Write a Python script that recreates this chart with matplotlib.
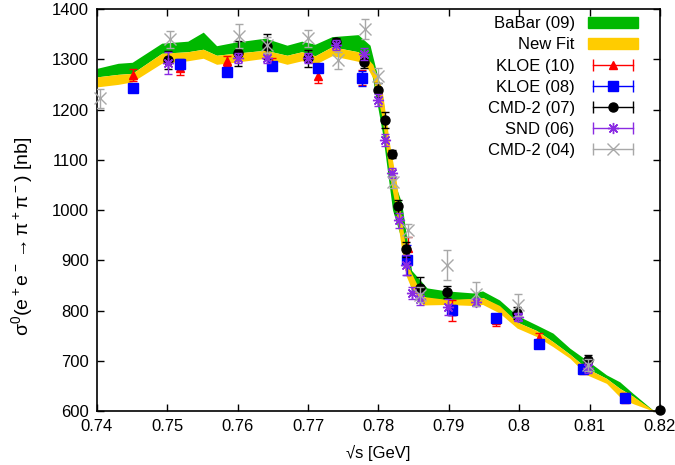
import numpy as np
import matplotlib.pyplot as plt
from matplotlib.lines import Line2D
from matplotlib.patches import Patch
from matplotlib.legend_handler import HandlerLine2D, HandlerTuple

plt.rcParams['font.family'] = ['Liberation Sans', 'DejaVu Sans']
plt.rcParams['mathtext.fontset'] = 'custom'
plt.rcParams['mathtext.rm'] = 'Liberation Sans'
plt.rcParams['mathtext.it'] = 'Liberation Sans'

# BaBar (09) band
babar_x = [0.7400, 0.7430, 0.7450, 0.7492, 0.7529, 0.7551, 0.7570, 0.7596, 0.7639,
           0.7670, 0.7691, 0.7710, 0.7734, 0.7771, 0.7788, 0.7806, 0.7820, 0.7833,
           0.7840, 0.7847, 0.7869, 0.7897, 0.7934, 0.7948, 0.7972, 0.7997, 0.8025,
           0.8048, 0.8072, 0.8096, 0.8124, 0.8143, 0.8161, 0.8190, 0.8200]
babar_lo = [1265, 1270, 1272, 1312, 1315, 1320, 1308, 1312, 1318,
            1308, 1315, 1307, 1325, 1315, 1290, 1150, 1000, 940,
            880, 840, 825, 821, 823, 826, 808, 777, 760,
            738, 713, 685, 665, 645, 630, 600, 600]
babar_hi = [1282, 1292, 1294, 1332, 1336, 1354, 1327, 1334, 1342,
            1328, 1336, 1330, 1345, 1349, 1328, 1225, 1066, 1014,
            946, 880, 845, 839, 835, 839, 821, 790, 771,
            755, 725, 701, 672, 658, 636, 602, 600]

# New Fit band
fit_x = [0.7400, 0.7430, 0.7450, 0.7492, 0.7529, 0.7551, 0.7570, 0.7596, 0.7639,
         0.7670, 0.7691, 0.7710, 0.7734, 0.7771, 0.7784, 0.7792, 0.7805, 0.7816,
         0.7825, 0.7832, 0.7839, 0.7845, 0.7863, 0.7897, 0.7934, 0.7948, 0.7972,
         0.7997, 0.8025, 0.8048, 0.8072, 0.8096, 0.8124, 0.8143, 0.8161, 0.8190, 0.8200]
fit_lo = [1245, 1250, 1255, 1292, 1297, 1302, 1290, 1294, 1302,
          1290, 1297, 1290, 1307, 1296, 1283, 1263, 1185, 1066,
          1000, 930, 870, 850, 811, 812, 810, 812, 795,
          765, 748, 728, 705, 672, 655, 628, 615, 600, 600]
fit_hi = [1265, 1270, 1272, 1312, 1315, 1320, 1308, 1312, 1318,
          1308, 1315, 1307, 1325, 1315, 1302, 1290, 1240, 1130,
          1060, 990, 920, 880, 828, 822, 824, 826, 810,
          777, 760, 738, 713, 685, 665, 645, 630, 602, 600]

# KLOE (10)
kloe10_x = [0.7451, 0.7518, 0.7585, 0.7649, 0.7714, 0.7776, 0.7842, 0.7904,
            0.7967, 0.8028, 0.8090, 0.8151]
kloe10_y = [1268, 1283, 1296, 1290, 1266, 1263, 925, 800, 782, 746, 684, 625]
kloe10_e = [12, 14, 10, 12, 13, 15, 22, 20, 12, 10, 10, 10]

# KLOE (08)
kloe08_x = [0.7451, 0.7518, 0.7585, 0.7649, 0.7714, 0.7776, 0.7840, 0.7904,
            0.7967, 0.8028, 0.8090, 0.8151]
kloe08_y = [1242, 1290, 1275, 1286, 1282, 1262, 900, 801, 785, 733, 684, 626]
kloe08_e = [8, 10, 8, 8, 8, 15, 30, 10, 8, 8, 8, 8]

# CMD-2 (07)
cmd07_x = [0.7501, 0.7600, 0.7641, 0.7700, 0.7739, 0.7779, 0.7799, 0.7809,
           0.7819, 0.7828, 0.7839, 0.7859, 0.7898, 0.7997, 0.8098, 0.8200]
cmd07_y = [1299, 1312, 1326, 1302, 1334, 1294, 1239, 1179, 1112, 1007, 922,
           845, 836, 795, 701, 602]
cmd07_e = [18, 25, 25, 17, 8, 12, 14, 16, 8, 12, 15, 22, 12, 12, 10, 5]

# SND (06)
snd_x = [0.7501, 0.7600, 0.7641, 0.7700, 0.7739, 0.7779, 0.7799, 0.7809, 0.7819,
         0.7829, 0.7839, 0.7847, 0.7859, 0.7899, 0.7938, 0.7998, 0.8098]
snd_y = [1292, 1303, 1303, 1303, 1329, 1310, 1219, 1139, 1074, 980, 890, 835,
         823, 807, 817, 788, 686]
snd_e = [22, 10, 10, 10, 10, 12, 12, 12, 10, 15, 20, 12, 12, 15, 8, 8, 10]

# CMD-2 (04)
cmd04_x = [0.7404, 0.7504, 0.7602, 0.7641, 0.7700, 0.7742, 0.7781, 0.7800,
           0.7821, 0.7842, 0.7859, 0.7897, 0.7938, 0.7998, 0.8098]
cmd04_y = [1222, 1340, 1346, 1328, 1342, 1298, 1360, 1267, 1055, 960, 831,
           890, 832, 811, 692]
cmd04_e = [19, 17, 24, 16, 17, 17, 20, 15, 12, 13, 15, 30, 24, 22, 12]

xticks = [0.74, 0.75, 0.76, 0.77, 0.78, 0.79, 0.80, 0.81, 0.82]
xtick_labels = ['0.74', '0.75', '0.76', '0.77', '0.78', '0.79', '0.8', '0.81', '0.82']
yticks = [600, 700, 800, 900, 1000, 1100, 1200, 1300, 1400]

green = '#00b800'
yellow = '#ffcc00'
fs = 12

fig = plt.figure(figsize=(6.75, 4.65), dpi=100)
ax = fig.add_axes([0.1437, 0.1161, 0.834, 0.8645])

ax.fill_between(babar_x, babar_lo, babar_hi, color=green, lw=0, zorder=1)
ax.fill_between(fit_x, fit_lo, fit_hi, color=yellow, lw=0, zorder=2)

series = [
    (kloe10_x, kloe10_y, kloe10_e, 'red', '^', 6, 'KLOE (10)'),
    (kloe08_x, kloe08_y, kloe08_e, 'blue', 's', 7, 'KLOE (08)'),
    (cmd07_x, cmd07_y, cmd07_e, 'black', 'o', 6.5, 'CMD-2 (07)'),
    (snd_x, snd_y, snd_e, '#8a2be2', (8, 2, 0), 8, 'SND (06)'),
    (cmd04_x, cmd04_y, cmd04_e, '#a8a8a8', 'x', 8, 'CMD-2 (04)'),
]

handles = [Patch(color=green), Patch(color=yellow)]
labels = ['BaBar (09)', 'New Fit']
hmap = {}
for i, (x, y, e, c, m, ms, lab) in enumerate(series):
    ax.errorbar(x, y, yerr=e, fmt='none', ecolor=c, elinewidth=1, capsize=3,
                capthick=1, zorder=3 + i)
    ax.plot(x, y, ls='none', marker=m, ms=ms, color=c, mec=c, mew=1,
            zorder=3 + i, clip_on=False)
    caps = Line2D([], [], color=c, lw=1, marker='|', ms=8, mew=1)
    mk = Line2D([], [], color=c, ls='none', marker=m, ms=ms, mew=1)
    hmap[caps] = HandlerLine2D(numpoints=2)
    hmap[mk] = HandlerLine2D(numpoints=1)
    handles.append((caps, mk))
    labels.append(lab)

hmap[tuple] = HandlerTuple(ndivide=1, pad=0)
ax.legend(handles, labels, handler_map=hmap, loc='upper right',
          bbox_to_anchor=(0.961, 0.982), frameon=False, markerfirst=False,
          fontsize=fs, handlelength=3.0, handletextpad=0.8, labelspacing=0.37,
          borderpad=0, borderaxespad=0, handleheight=0.7)

ax.set_xlim(0.74, 0.82)
ax.set_ylim(600, 1400)
ax.set_xticks(xticks)
ax.set_xticklabels(xtick_labels)
ax.set_yticks(yticks)
ax.tick_params(direction='in', top=True, right=True, length=5, width=1,
               labelsize=fs, pad=6)
for s in ax.spines.values():
    s.set_linewidth(1.2)

ax.set_xlabel('√s [GeV]', fontsize=fs, labelpad=8)
ax.set_ylabel(r'$\mathrm{\sigma^0(e^+e^- \rightarrow \pi^+\pi^-)\ [nb]}$', fontsize=14)
ax.yaxis.set_label_coords(-0.11, 0.435)

fig.savefig('out.png', dpi=100)
